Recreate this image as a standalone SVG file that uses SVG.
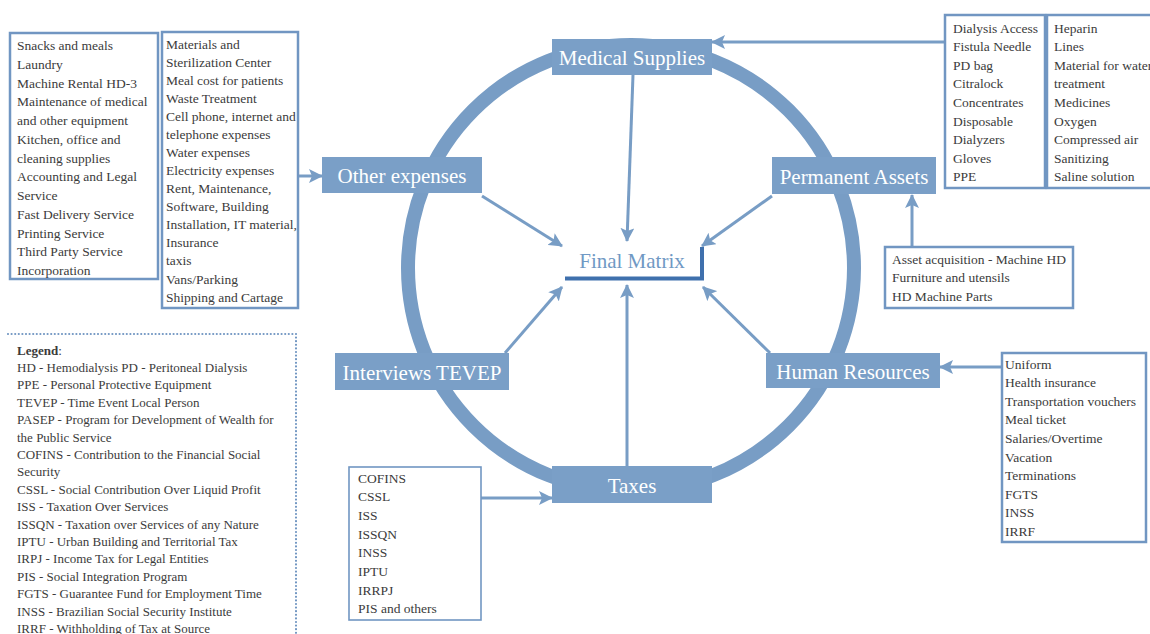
<svg xmlns="http://www.w3.org/2000/svg" width="1150" height="634" viewBox="0 0 1150 634">
<defs>
<marker id="arr" markerUnits="userSpaceOnUse" markerWidth="14" markerHeight="14" viewBox="0 0 14 14" refX="13" refY="7" orient="auto">
<path d="M0,0 L14,7 L0,14 L3,7 Z" fill="#789dc5"/>
</marker>
<style>
.ring{fill:none;stroke:#789dc5;stroke-width:14}
.node rect{fill:#7a9fc7}
.node text{fill:#ffffff;font-family:"Liberation Serif","Times New Roman",serif;font-size:21px;text-anchor:middle}
.conn line{stroke:#789dc5;stroke-width:3;marker-end:url(#arr)}
.box{fill:#ffffff;stroke:#7196c2;stroke-width:2.5}
.lst{fill:#3b3b3b;font-family:"Liberation Serif","Times New Roman",serif;font-size:13.5px}
.leg{fill:#3b3b3b;font-family:"Liberation Serif","Times New Roman",serif;font-size:13px}
</style>
</defs>
<rect width="1150" height="634" fill="#ffffff"/>
<circle class="ring" cx="631" cy="268" r="223"/>

<g id="connectors" class="conn">
<line x1="633" y1="75" x2="627" y2="241"/>
<line x1="482" y1="196" x2="562" y2="246"/>
<line x1="772" y1="196" x2="702" y2="246"/>
<line x1="505" y1="353" x2="562" y2="287"/>
<line x1="770" y1="353" x2="703" y2="287"/>
<line x1="627" y1="466" x2="627" y2="285"/>
<line x1="945" y1="42" x2="712" y2="42"/>
<line x1="299" y1="176" x2="322" y2="176"/>
<line x1="912" y1="247" x2="912" y2="195"/>
<line x1="1002" y1="367" x2="940" y2="367"/>
<line x1="481" y1="498" x2="552" y2="498"/>
</g>

<g id="final-matrix">
<text x="632" y="268" fill="#7099c4" font-family="Liberation Serif,serif" font-size="21" text-anchor="middle">Final Matrix</text>
<path d="M565,278.5 H702 V247" fill="none" stroke="#3f70ad" stroke-width="4"/>
</g>

<g id="medical-supplies" class="node"><rect x="552" y="39" width="160" height="36"/><text x="632" y="65">Medical Supplies</text></g>
<g id="permanent-assets" class="node"><rect x="772" y="157" width="164" height="37"/><text x="854" y="184">Permanent Assets</text></g>
<g id="human-resources" class="node"><rect x="766" y="353" width="174" height="35"/><text x="853" y="379">Human Resources</text></g>
<g id="interviews-tevep" class="node"><rect x="335" y="353" width="174" height="37"/><text x="422" y="380">Interviews TEVEP</text></g>
<g id="other-expenses" class="node"><rect x="322" y="157" width="160" height="36"/><text x="402" y="183">Other expenses</text></g>
<g id="taxes" class="node"><rect x="552" y="466" width="160" height="37"/><text x="632" y="493">Taxes</text></g>

<g id="other-expenses-list-1">
<rect class="box" x="10" y="33" width="148" height="246"/>
<text class="lst" x="17">
<tspan x="17" y="50">Snacks and meals</tspan>
<tspan x="17" y="68.75">Laundry</tspan>
<tspan x="17" y="87.5">Machine Rental HD-3</tspan>
<tspan x="17" y="106.25">Maintenance of medical</tspan>
<tspan x="17" y="125">and other equipment</tspan>
<tspan x="17" y="143.75">Kitchen, office and</tspan>
<tspan x="17" y="162.5">cleaning supplies</tspan>
<tspan x="17" y="181.25">Accounting and Legal</tspan>
<tspan x="17" y="200">Service</tspan>
<tspan x="17" y="218.75">Fast Delivery Service</tspan>
<tspan x="17" y="237.5">Printing Service</tspan>
<tspan x="17" y="256.25">Third Party Service</tspan>
<tspan x="17" y="275">Incorporation</tspan>
</text>
</g>

<g id="other-expenses-list-2">
<rect class="box" x="162" y="32" width="136" height="276"/>
<text class="lst">
<tspan x="166" y="48.5">Materials and</tspan>
<tspan x="166" y="66.6">Sterilization Center</tspan>
<tspan x="166" y="84.6">Meal cost for patients</tspan>
<tspan x="166" y="102.7">Waste Treatment</tspan>
<tspan x="166" y="120.8">Cell phone, internet and</tspan>
<tspan x="166" y="138.9">telephone expenses</tspan>
<tspan x="166" y="156.9">Water expenses</tspan>
<tspan x="166" y="175">Electricity expenses</tspan>
<tspan x="166" y="193.1">Rent, Maintenance,</tspan>
<tspan x="166" y="211.2">Software, Building</tspan>
<tspan x="166" y="229.2">Installation, IT material,</tspan>
<tspan x="166" y="247.3">Insurance</tspan>
<tspan x="166" y="265.4">taxis</tspan>
<tspan x="166" y="283.5">Vans/Parking</tspan>
<tspan x="166" y="301.5">Shipping and Cartage</tspan>
</text>
</g>

<g id="medical-supplies-list-1">
<rect class="box" x="945" y="15" width="100" height="173"/>
<text class="lst">
<tspan x="953" y="32.5">Dialysis Access</tspan>
<tspan x="953" y="51.1">Fistula Needle</tspan>
<tspan x="953" y="69.7">PD bag</tspan>
<tspan x="953" y="88.3">Citralock</tspan>
<tspan x="953" y="106.9">Concentrates</tspan>
<tspan x="953" y="125.5">Disposable</tspan>
<tspan x="953" y="144.1">Dialyzers</tspan>
<tspan x="953" y="162.7">Gloves</tspan>
<tspan x="953" y="181.3">PPE</tspan>
</text>
</g>

<g id="medical-supplies-list-2">
<rect class="box" x="1047" y="15" width="110" height="173"/>
<text class="lst">
<tspan x="1054" y="32.5">Heparin</tspan>
<tspan x="1054" y="51.1">Lines</tspan>
<tspan x="1054" y="69.7">Material for water</tspan>
<tspan x="1054" y="88.3">treatment</tspan>
<tspan x="1054" y="106.9">Medicines</tspan>
<tspan x="1054" y="125.5">Oxygen</tspan>
<tspan x="1054" y="144.1">Compressed air</tspan>
<tspan x="1054" y="162.7">Sanitizing</tspan>
<tspan x="1054" y="181.3">Saline solution</tspan>
</text>
</g>

<g id="permanent-assets-list">
<rect class="box" x="885" y="247" width="188" height="61"/>
<text class="lst">
<tspan x="892" y="263.5">Asset acquisition - Machine HD</tspan>
<tspan x="892" y="282.2">Furniture and utensils</tspan>
<tspan x="892" y="300.9">HD Machine Parts</tspan>
</text>
</g>

<g id="human-resources-list">
<rect class="box" x="1002" y="353" width="144" height="189"/>
<text class="lst">
<tspan x="1005" y="368.5">Uniform</tspan>
<tspan x="1005" y="387.1">Health insurance</tspan>
<tspan x="1005" y="405.7">Transportation vouchers</tspan>
<tspan x="1005" y="424.3">Meal ticket</tspan>
<tspan x="1005" y="442.9">Salaries/Overtime</tspan>
<tspan x="1005" y="461.5">Vacation</tspan>
<tspan x="1005" y="480.1">Terminations</tspan>
<tspan x="1005" y="498.7">FGTS</tspan>
<tspan x="1005" y="517.3">INSS</tspan>
<tspan x="1005" y="535.9">IRRF</tspan>
</text>
</g>

<g id="taxes-list">
<rect class="box" x="349" y="467" width="132" height="153" style="stroke-width:1.6"/>
<text class="lst">
<tspan x="358" y="482.5">COFINS</tspan>
<tspan x="358" y="501.2">CSSL</tspan>
<tspan x="358" y="519.9">ISS</tspan>
<tspan x="358" y="538.6">ISSQN</tspan>
<tspan x="358" y="557.3">INSS</tspan>
<tspan x="358" y="576">IPTU</tspan>
<tspan x="358" y="594.7">IRRPJ</tspan>
<tspan x="358" y="613.4">PIS and others</tspan>
</text>
</g>

<g id="legend">
<path d="M8,334 H296 V640" fill="none" stroke="#7196c2" stroke-width="2.2" stroke-linecap="round" stroke-dasharray="0 3.6"/>
<text class="leg">
<tspan x="17" y="354.5"><tspan font-weight="bold">Legend</tspan>:</tspan>
<tspan x="17" y="371.9">HD - Hemodialysis PD - Peritoneal Dialysis</tspan>
<tspan x="17" y="389.3">PPE - Personal Protective Equipment</tspan>
<tspan x="17" y="406.7">TEVEP - Time Event Local Person</tspan>
<tspan x="17" y="424.1">PASEP - Program for Development of Wealth for</tspan>
<tspan x="17" y="441.5">the Public Service</tspan>
<tspan x="17" y="458.9">COFINS - Contribution to the Financial Social</tspan>
<tspan x="17" y="476.3">Security</tspan>
<tspan x="17" y="493.7">CSSL - Social Contribution Over Liquid Profit</tspan>
<tspan x="17" y="511.1">ISS - Taxation Over Services</tspan>
<tspan x="17" y="528.5">ISSQN - Taxation over Services of any Nature</tspan>
<tspan x="17" y="545.9">IPTU - Urban Building and Territorial Tax</tspan>
<tspan x="17" y="563.3">IRPJ - Income Tax for Legal Entities</tspan>
<tspan x="17" y="580.7">PIS - Social Integration Program</tspan>
<tspan x="17" y="598.1">FGTS - Guarantee Fund for Employment Time</tspan>
<tspan x="17" y="615.5">INSS - Brazilian Social Security Institute</tspan>
<tspan x="17" y="632.9">IRRF - Withholding of Tax at Source</tspan>
</text>
</g>
</svg>
